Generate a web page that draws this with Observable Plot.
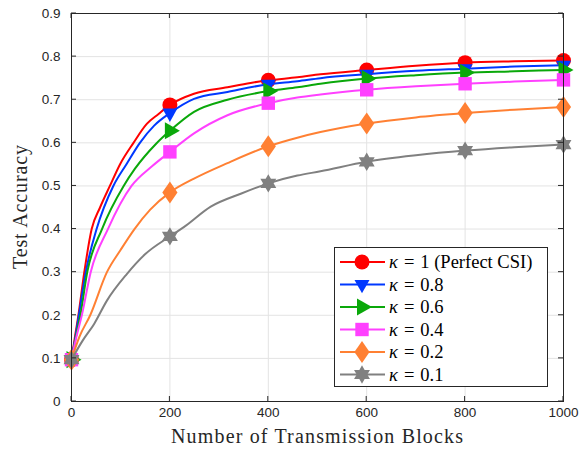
<!DOCTYPE html>
<html><head><meta charset="utf-8">
<script src="https://cdn.jsdelivr.net/npm/d3@7"></script>
<script src="https://cdn.jsdelivr.net/npm/@observablehq/plot@0.6"></script>
<style>body{margin:0;background:#fff;} #chart{position:relative;width:585px;height:449px;}</style>
</head><body><div id="chart"></div>
<script>
// ---- data ----
const seriesLabels = ["1 (Perfect CSI)", "0.8", "0.6", "0.4", "0.2", "0.1"];
const seriesColors = ["#ff0000", "#0038ff", "#0aa80a", "#ff40ff", "#ff8033", "#808080"];

const k10x = [0, 7, 14, 26, 41, 58, 78, 99, 126, 153, 177, 200, 249, 317, 364, 400, 459, 506, 600, 700, 800, 900, 1000];
const k10y = [0.097, 0.15, 0.2, 0.3, 0.4, 0.45, 0.5, 0.551, 0.6, 0.644, 0.667, 0.688, 0.714, 0.729, 0.739, 0.745, 0.752, 0.759, 0.769, 0.779, 0.786, 0.789, 0.791];

const k08x = [0, 8, 15, 29, 51, 85, 112, 139, 168, 200, 249, 317, 400, 459, 506, 600, 700, 800, 900, 1000];
const k08y = [0.097, 0.15, 0.2, 0.3, 0.4, 0.5, 0.551, 0.6, 0.64, 0.669, 0.702, 0.718, 0.736, 0.743, 0.750, 0.759, 0.767, 0.772, 0.777, 0.780];

const k06x = [0, 9, 18, 32, 62, 106, 129, 172, 200, 249, 317, 400, 459, 506, 600, 700, 800, 900, 1000];
const k06y = [0.097, 0.15, 0.2, 0.3, 0.4, 0.5, 0.54, 0.598, 0.628, 0.672, 0.700, 0.720, 0.729, 0.737, 0.749, 0.757, 0.763, 0.766, 0.769];

const k04x = [0, 10, 21, 39, 74, 122, 163, 200, 249, 317, 400, 459, 506, 600, 700, 800, 900, 1000];
const k04y = [0.097, 0.15, 0.2, 0.3, 0.4, 0.5, 0.545, 0.579, 0.622, 0.664, 0.692, 0.705, 0.712, 0.723, 0.731, 0.737, 0.742, 0.746];

const k02x = [0, 16, 38, 72, 100, 128, 160, 200, 249, 317, 400, 459, 506, 600, 700, 800, 900, 1000];
const k02y = [0.097, 0.15, 0.2, 0.3, 0.352, 0.4, 0.445, 0.485, 0.517, 0.553, 0.592, 0.612, 0.625, 0.645, 0.659, 0.669, 0.677, 0.683];

const k01x = [0, 22, 46, 72, 112, 150, 200, 229, 283, 344, 400, 459, 506, 600, 700, 800, 900, 1000];
const k01y = [0.097, 0.14, 0.18, 0.234, 0.295, 0.342, 0.383, 0.405, 0.452, 0.482, 0.506, 0.524, 0.534, 0.556, 0.571, 0.582, 0.590, 0.596];

const markerBlocks = [0, 200, 400, 600, 800, 1000];
const xTicks = [0, 200, 400, 600, 800, 1000];
const yTicks = [0, 0.1, 0.2, 0.3, 0.4, 0.5, 0.6, 0.7, 0.8, 0.9];

// ---- marker shapes (MATLAB-like) ----
const symCircle = {draw(c){ c.moveTo(7.5,0); c.arc(0,0,7.5,0,2*Math.PI); c.closePath(); }};
const symDown = {draw(c){ c.moveTo(-7.5,-4.5); c.lineTo(7.5,-4.5); c.lineTo(0,8.8); c.closePath(); }};
const symRight = {draw(c){ c.moveTo(-5,-8.6); c.lineTo(-5,8.6); c.lineTo(10,0); c.closePath(); }};
const symSquare = {draw(c){ c.moveTo(-6.7,-6.7); c.lineTo(6.7,-6.7); c.lineTo(6.7,6.7); c.lineTo(-6.7,6.7); c.closePath(); }};
const symDiamond = {draw(c){ c.moveTo(0,-11); c.lineTo(7.6,0); c.lineTo(0,11); c.lineTo(-7.6,0); c.closePath(); }};
const symHex = {draw(c){
  const R = 9.2, r = R / Math.sqrt(3);
  for (let i = 0; i < 12; i++) {
    const a = -Math.PI/2 + i*Math.PI/6, rr = i % 2 ? r : R;
    const px = rr*Math.cos(a), py = rr*Math.sin(a);
    if (i === 0) c.moveTo(px, py); else c.lineTo(px, py);
  }
  c.closePath();
}};
const symbols = [symCircle, symDown, symRight, symSquare, symDiamond, symHex];

const seriesXs = [k10x, k08x, k06x, k04x, k02x, k01x];
const seriesYs = [k10y, k08y, k06y, k04y, k02y, k01y];
const series = seriesXs.map((xs, i) => xs.map((b, j) => ({blocks: b, acc: seriesYs[i][j]})));

const dataMarks = [];
series.forEach((d, i) => {
  dataMarks.push(Plot.line(d, {x: "blocks", y: "acc", stroke: seriesColors[i], strokeWidth: 2, curve: "monotone-x"}));
  dataMarks.push(Plot.dot(d.filter(p => markerBlocks.includes(p.blocks)),
    {x: "blocks", y: "acc", fill: seriesColors[i], stroke: "none", symbol: symbols[i], r: 8}));
});

const axisColor = "#262626";
const chart = Plot.plot({
  width: 585, height: 449,
  marginLeft: 71, marginRight: 22, marginTop: 13, marginBottom: 48,
  x: {domain: [0, 1000]},
  y: {domain: [0, 0.9]},
  style: {fontFamily: "'Liberation Sans', Arial, sans-serif", fontSize: "13.5px", color: axisColor, background: "white"},
  marks: [
    Plot.gridX(xTicks, {stroke: "#e3e3e3", strokeOpacity: 1}),
    Plot.gridY(yTicks, {stroke: "#e3e3e3", strokeOpacity: 1}),
    ...dataMarks,
    Plot.frame({stroke: axisColor}),
    Plot.axisX(xTicks, {anchor: "bottom", tickSize: 0, tickPadding: 6, label: null, tickFormat: d => String(d), fill: axisColor}),
    Plot.axisY(yTicks, {anchor: "left", tickSize: 0, tickPadding: 11, label: null, tickFormat: d => d === 0 ? "0" : d.toFixed(1), fill: axisColor})
  ]
});
document.getElementById("chart").appendChild(chart);

const svg = d3.select(chart);
const sx = chart.scale("x"), sy = chart.scale("y");
const [x0, x1] = sx.range, [y0, y1] = sy.range; // y0 bottom, y1 top

// ---- inward tick marks on all four sides (positions from Plot's scales) ----
const tg = svg.append("g").attr("stroke", axisColor).attr("stroke-width", 1);
xTicks.forEach(v => {
  const px = sx.apply(v);
  tg.append("line").attr("x1", px).attr("x2", px).attr("y1", y0).attr("y2", y0 - 5);
  tg.append("line").attr("x1", px).attr("x2", px).attr("y1", y1).attr("y2", y1 + 5);
});
yTicks.forEach(v => {
  const py = sy.apply(v);
  tg.append("line").attr("y1", py).attr("y2", py).attr("x1", x0).attr("x2", x0 + 5);
  tg.append("line").attr("y1", py).attr("y2", py).attr("x1", x1).attr("x2", x1 - 5);
});

// ---- axis titles ----
const serif = "'Liberation Serif', 'Times New Roman', serif";
svg.append("text").attr("x", (x0 + x1) / 2).attr("y", 443).attr("text-anchor", "middle")
  .attr("font-family", serif).attr("font-size", 20).attr("fill", axisColor)
  .attr("textLength", 292).attr("lengthAdjust", "spacing")
  .text("Number of Transmission Blocks");
svg.append("text").attr("transform", `translate(27,${(y0 + y1) / 2}) rotate(-90)`).attr("text-anchor", "middle")
  .attr("font-family", serif).attr("font-size", 20).attr("fill", axisColor)
  .attr("textLength", 124).attr("lengthAdjust", "spacing")
  .text("Test Accuracy");

// ---- legend ----
const lg = svg.append("g");
lg.append("rect").attr("x", 334.5).attr("y", 247.5).attr("width", 213).attr("height", 139)
  .attr("fill", "white").attr("stroke", axisColor);
seriesLabels.forEach((lab, i) => {
  const cy = 262 + i * 22.5;
  lg.append("line").attr("x1", 340).attr("x2", 385).attr("y1", cy).attr("y2", cy)
    .attr("stroke", seriesColors[i]).attr("stroke-width", 2);
  lg.append("path").attr("transform", `translate(362,${cy})`)
    .attr("d", d3.symbol(symbols[i])()).attr("fill", seriesColors[i]);
  const t = lg.append("text").attr("x", 389).attr("y", cy + 6).attr("text-anchor", "start")
    .attr("font-family", serif).attr("font-size", 18.5).attr("fill", "#000");
  t.append("tspan").attr("font-style", "italic").text("κ");
  t.append("tspan").attr("dx", 6).text("=");
  t.append("tspan").attr("dx", 6).text(lab);
});
</script>
</body></html>
